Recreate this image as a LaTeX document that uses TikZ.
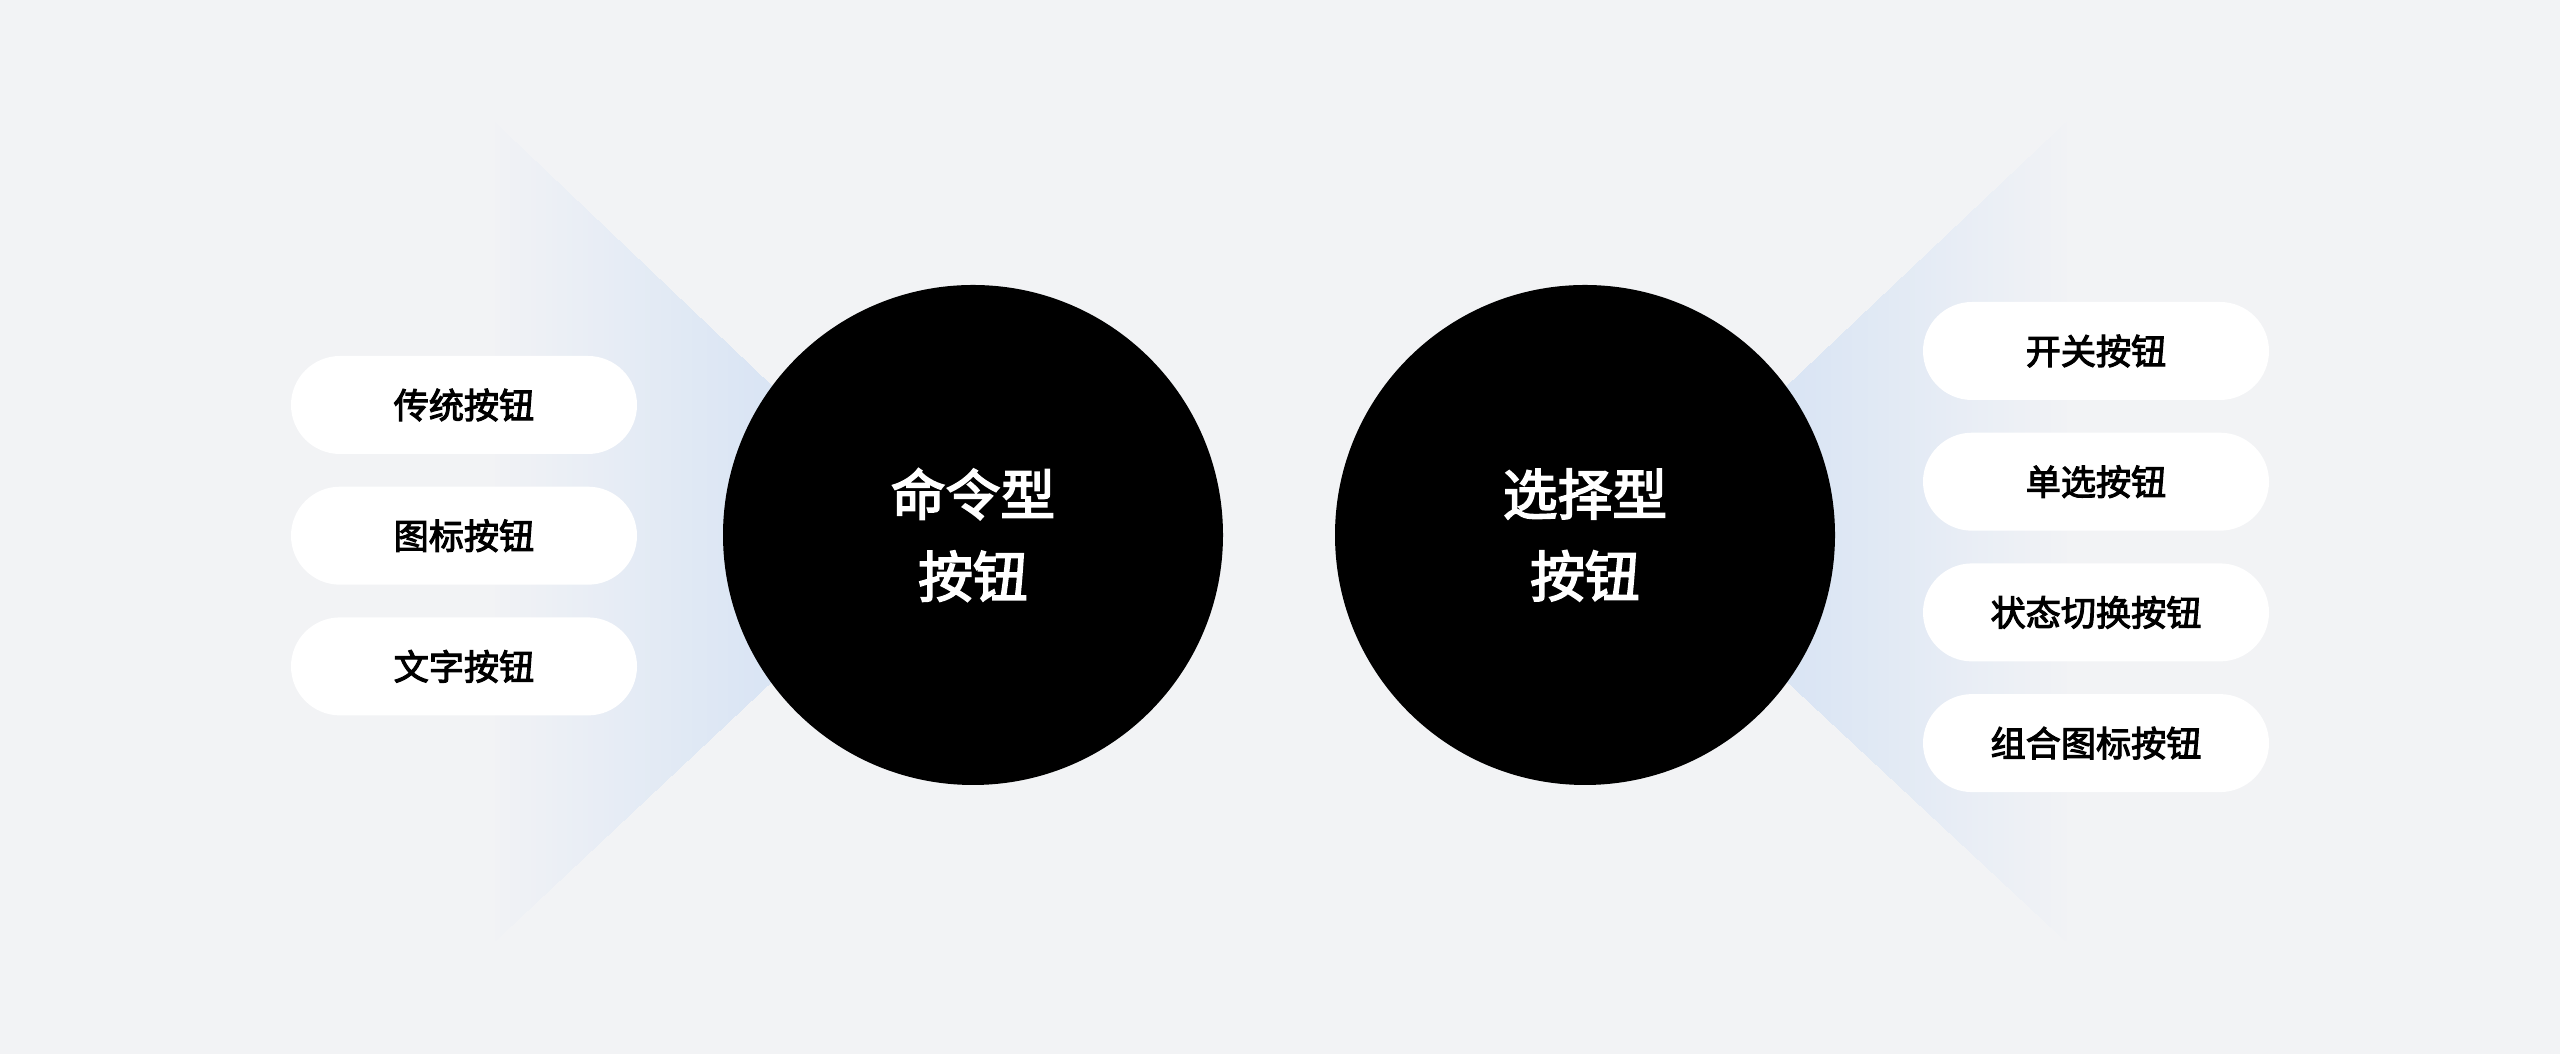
\documentclass[tikz,border=0pt]{standalone}
\usepackage{fontspec}
\newfontfamily\cjk[FakeBold=3]{Noto Sans CJK SC}
\usepackage{tikz}
\usetikzlibrary{shapes,arrows,calc}
\definecolor{bgcol}{HTML}{F2F3F5}
\definecolor{fanblue}{HTML}{DAE5F4}
\tikzstyle{hub} = [circle, fill=black, text=white, minimum size=5cm,
    inner sep=0pt, align=center, font=\cjk\fontsize{15.6}{23.3}\selectfont]
\tikzstyle{pill} = [rectangle, fill=white, rounded corners=0.49cm,
    minimum width=3.46cm, minimum height=0.98cm, font=\cjk\fontsize{10}{12}\selectfont]

\begin{document}
\begin{tikzpicture}[node distance = 1.307cm, auto]
    % Background
    \fill [bgcol] (0,0) rectangle (25.6,10.54);
    \useasboundingbox (0,0) rectangle (25.6,10.54);
    % Fan corners
    \coordinate (lt) at (4.95,9.31);
    \coordinate (lb) at (4.95,1.13);
    \coordinate (la) at (9.28,5.19);
    \coordinate (rt) at (20.66,9.31);
    \coordinate (rb) at (20.66,1.13);
    \coordinate (ra) at (16.30,5.19);
    % Fans, faded in steps
    \foreach \i [evaluate=\i as \t using \i*0.012, evaluate=\i as \p using 5+\i*1.9] in {0,...,50} {
        \fill [fanblue!\p!bgcol] ($(lt)!\t!(la)$) -- (la) -- ($(lb)!\t!(la)$) -- cycle;
        \fill [fanblue!\p!bgcol] ($(rt)!\t!(ra)$) -- (ra) -- ($(rb)!\t!(ra)$) -- cycle;
    }
    % Place nodes
    \node [hub] (command) at (9.73,5.19) {命令型\\按钮};
    \node [hub] (choice) at (15.85,5.19) {选择型\\按钮};
    \node [pill] (classic) at (4.64,6.49) {传统按钮};
    \node [pill, below of=classic] (icon) {图标按钮};
    \node [pill, below of=icon] (textbtn) {文字按钮};
    \node [pill] (switch) at (20.96,7.03) {开关按钮};
    \node [pill, below of=switch] (radio) {单选按钮};
    \node [pill, below of=radio] (toggle) {状态切换按钮};
    \node [pill, below of=toggle] (group) {组合图标按钮};
\end{tikzpicture}
\end{document}
